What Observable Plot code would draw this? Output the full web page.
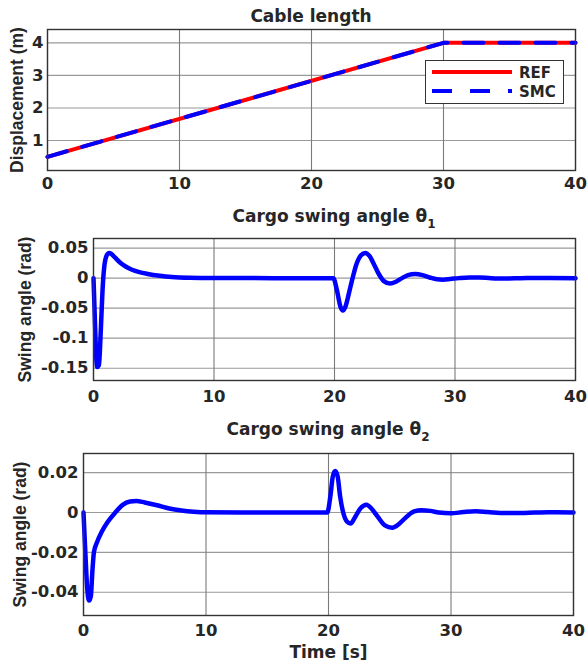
<!DOCTYPE html>
<html><head><meta charset="utf-8">
<script src="https://cdn.jsdelivr.net/npm/d3@7"></script>
<script src="https://cdn.jsdelivr.net/npm/@observablehq/plot@0.6"></script>
<style>
body{margin:0;background:#fff;}
#fig{position:relative;width:587px;height:668px;overflow:hidden;font-family:"DejaVu Sans";font-weight:bold;color:#262626;background:#fff;}
.panel{position:absolute;left:0;}
.title{position:absolute;text-align:center;font-size:17px;line-height:20px;white-space:nowrap;}
.title sub{font-size:12px;vertical-align:-6px;line-height:0;}
.legend{position:absolute;background:#fff;border:1.3px solid #333;box-sizing:border-box;}
</style></head><body><div id="fig"></div>
<script>
// ---------- data ----------
const xTicks = [0, 10, 20, 30, 40];

const cableTime = [0, 30, 40];
const cableRef  = [0.5, 4, 4];
const cableSmc  = [0.5, 4, 4];
const cableYTicks  = [1, 2, 3, 4];
const cableYLabels = ["1", "2", "3", "4"];

const theta1Time = [0, 0.1, 0.2, 0.3, 0.45, 0.6, 0.75, 0.9, 1.1, 1.3, 1.5, 1.8, 2.2, 2.7, 3.2, 3.8, 4.5, 5.5, 6.5, 8, 10, 15, 19.9,
  20.2, 20.5, 20.7, 20.9, 21.2, 21.5, 21.8, 22.2, 22.55, 22.9, 23.3, 23.7, 24.1, 24.6, 25.1, 25.6, 26.1, 26.7, 27.3, 27.9, 28.5, 29, 29.6, 30.3, 31.2, 32, 33, 34, 35, 36, 40];
const theta1 = [0, -0.06, -0.12, -0.148, -0.145, -0.09, -0.02, 0.02, 0.038, 0.042, 0.040, 0.034, 0.026, 0.019, 0.014, 0.010, 0.007, 0.004, 0.002, 0.0007, 0.0002, 0, 0,
  -0.02, -0.048, -0.054, -0.048, -0.025, 0, 0.022, 0.038, 0.042, 0.037, 0.022, 0.006, -0.005, -0.009, -0.006, 0.0, 0.005, 0.0068, 0.005, 0.001, -0.002, -0.0025, -0.0015, 0.0, 0.0012, 0.001, 0.0, -0.0005, -0.0003, 0.0002, 0];
const theta1YTicks  = [-0.15, -0.1, -0.05, 0, 0.05];
const theta1YLabels = ["-0.15", "-0.1", "-0.05", "0", "0.05"];

const theta2Time = [0, 0.15, 0.3, 0.45, 0.6, 0.72, 0.85, 1.1, 1.5, 2.0, 2.6, 3.2, 3.8, 4.3, 5.0, 6.0, 7.0, 8.0, 9.0, 10, 15, 19.9,
  20.15, 20.35, 20.55, 20.75, 20.95, 21.2, 21.5, 21.8, 22.2, 22.6, 23.1, 23.5, 24.0, 24.6, 25.2, 25.8, 26.4, 27.0, 27.6, 28.3, 29.0, 30.0, 31.0, 32.0, 33.0, 34.5, 36.0, 38, 40];
const theta2 = [0, -0.02, -0.038, -0.0442, -0.042, -0.03, -0.02, -0.015, -0.0095, -0.0045, 0, 0.0038, 0.0055, 0.0058, 0.005, 0.0036, 0.002, 0.001, 0.0004, 0.0001, 0, 0,
  0.008, 0.018, 0.0208, 0.018, 0.008, 0.0, -0.0045, -0.0055, -0.002, 0.002, 0.0039, 0.002, -0.002, -0.0065, -0.0076, -0.0055, -0.002, 0.0005, 0.0011, 0.0008, 0.0, -0.0004, 0.0002, 0.0006, 0.0002, -0.0003, -0.0002, 0.0001, 0];
const theta2YTicks  = [-0.04, -0.02, 0, 0.02];
const theta2YLabels = ["-0.04", "-0.02", "0", "0.02"];

const legendLabels = ["REF", "SMC"];

// ---------- helpers ----------
const table = (t, v) => t.map((ti, i) => ({t: ti, v: v[i]}));
const fig = document.getElementById("fig");

function panel({top, height, ml, mr, mt, mb, ydom, yt, ytl, marks, ylab, ylabX, xPad, yPad, extra = []}) {
  const p = Plot.plot({
    width: 587, height,
    marginLeft: ml, marginRight: mr, marginTop: mt, marginBottom: mb,
    style: {fontFamily: "DejaVu Sans", fontWeight: "bold", fontSize: "16.5px", color: "#262626", background: "transparent", overflow: "visible"},
    x: {domain: [0, 40], ticks: xTicks, tickSize: 0, tickPadding: xPad, label: null, tickFormat: d => String(d)},
    y: {domain: ydom, ticks: yt, tickSize: 0, tickPadding: yPad, label: null, tickFormat: d => ytl[yt.indexOf(d)]},
    marks: [
      Plot.ruleY(yt, {stroke: "#9a9a9a", strokeWidth: 1.1}),
      Plot.ruleX(xTicks, {stroke: "#7a7a7a", strokeWidth: 1.1}),
      ...marks,
      Plot.frame({stroke: "#333", strokeWidth: 1.4}),
      Plot.text([ylab], {frameAnchor: "left", text: d => d, rotate: -90, dx: -(ml - ylabX), textAnchor: "middle", lineAnchor: "middle",
        fontFamily: "Liberation Sans", fontSize: 17.5, fontWeight: "bold", fill: "#262626"}),
      ...extra
    ]
  });
  p.classList.add("panel");
  p.style.top = top + "px";
  fig.appendChild(p);
}

function title(html, left, width, top) {
  const d = document.createElement("div");
  d.className = "title";
  d.style.left = left + "px"; d.style.width = width + "px"; d.style.top = top + "px";
  d.innerHTML = html;
  fig.appendChild(d);
}

// ---------- panel 1 ----------
panel({top: 0, height: 195, ml: 47, mr: 12, mt: 29, mb: 25, ydom: [0.08, 4.41], yt: cableYTicks, ytl: cableYLabels,
  xPad: 7, yPad: 4, ylab: "Displacement (m)", ylabX: 17,
  marks: [
    Plot.line(table(cableTime, cableRef), {x: "t", y: "v", stroke: "#ff0000", strokeWidth: 4}),
    Plot.line(table(cableTime, cableSmc), {x: "t", y: "v", stroke: "#0000ff", strokeWidth: 4, strokeDasharray: "20,16"})
  ]});
title("Cable length", 47, 528, 6);

// legend
const lg = document.createElement("div");
lg.className = "legend";
lg.style.left = "425px"; lg.style.top = "60px"; lg.style.width = "139px"; lg.style.height = "44px";
lg.innerHTML = `<svg width="137" height="42" style="position:absolute;left:0;top:0">
  <line x1="6" x2="86" y1="11" y2="11" stroke="#ff0000" stroke-width="4"/>
  <line x1="6" x2="86" y1="30" y2="30" stroke="#0000ff" stroke-width="4" stroke-dasharray="20,18"/>
  <text x="93" y="16.5" font-family="DejaVu Sans" font-weight="bold" font-size="15" fill="#262626">${legendLabels[0]}</text>
  <text x="93" y="35.5" font-family="DejaVu Sans" font-weight="bold" font-size="15" fill="#262626">${legendLabels[1]}</text>
</svg>`;
fig.appendChild(lg);

// ---------- panel 2 ----------
panel({top: 195, height: 215, ml: 93, mr: 12, mt: 43, mb: 30, ydom: [-0.1705, 0.066], yt: theta1YTicks, ytl: theta1YLabels,
  xPad: 10, yPad: 5, ylab: "Swing angle (rad)", ylabX: 25,
  marks: [
    Plot.line(table(theta1Time, theta1), {x: "t", y: "v", stroke: "#0000ff", strokeWidth: 4.5, curve: "monotone-x"})
  ]});
title("Cargo swing angle θ<sub>1</sub>", 93, 482, 206);

// ---------- panel 3 ----------
panel({top: 410, height: 258, ml: 83, mr: 14, mt: 43, mb: 53, ydom: [-0.0517, 0.0296], yt: theta2YTicks, ytl: theta2YLabels,
  xPad: 9, yPad: 5, ylab: "Swing angle (rad)", ylabX: 20,
  marks: [
    Plot.line(table(theta2Time, theta2), {x: "t", y: "v", stroke: "#0000ff", strokeWidth: 4.5, curve: "monotone-x"})
  ],
  extra: [Plot.text(["Time [s]"], {frameAnchor: "bottom", text: d => d, dy: 37, lineAnchor: "middle", fontSize: 17, fill: "#262626"})]
});
title("Cargo swing angle θ<sub>2</sub>", 83, 490, 419);
</script></body></html>
